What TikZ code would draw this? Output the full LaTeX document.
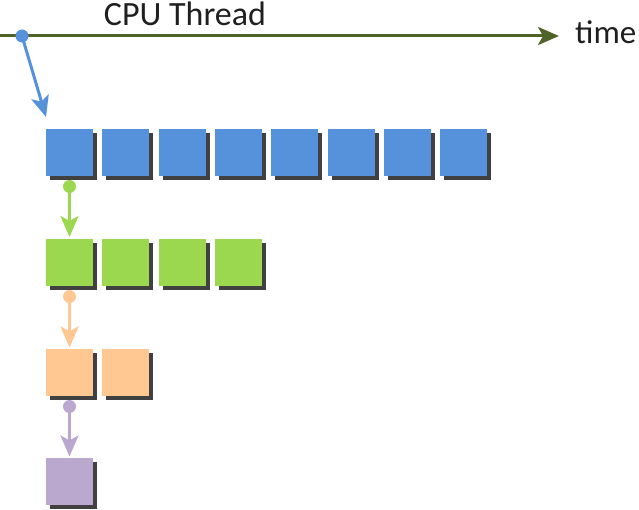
\documentclass[tikz,border=0pt]{standalone}
\usepackage{fontspec}
\setmainfont{Carlito}
\usetikzlibrary{arrows.meta,shadows,calc}
\definecolor{tline}{HTML}{4F6228}
\definecolor{cblue}{HTML}{5592DB}
\definecolor{cgreen}{HTML}{9BD74F}
\definecolor{corange}{HTML}{FFC893}
\definecolor{cpurple}{HTML}{BBA8CE}
\definecolor{shadowc}{HTML}{404040}
\tikzset{
  box/.style={rectangle, minimum size=47pt, inner sep=0pt, outer sep=0pt, anchor=north west,
    drop shadow={shadow xshift=4pt, shadow yshift=-4pt, fill=shadowc, opacity=1}},
  dot/.style={circle, minimum size=13pt, inner sep=0pt},
  link/.style={line width=3pt, -{Stealth[length=21pt,width=18pt,inset=5pt]}},
  lbl/.style={inner sep=0pt, text=black!88}
}
\begin{document}
\begin{tikzpicture}[x=1pt,y=-1pt]
\useasboundingbox (0,0) rectangle (639,510);
% timeline
\coordinate (t0) at (0,36);
\coordinate (t1) at (559,36);
\draw[tline, line width=3pt, -{Stealth[length=21pt,width=18pt,inset=5pt]}] (t0) -- (t1);
\node[lbl, font=\fontsize{34}{36}\selectfont, anchor=base] (cpu) at (185,25.5) {CPU Thread};
\node[lbl, font=\fontsize{33}{35}\selectfont, anchor=base west] (time) at (575,44) {time};
% rows
\foreach \i in {1,...,8} {
  \node[box, fill=cblue] (b\i) at ({46+56.3*(\i-1)},129) {};
}
\foreach \i in {1,...,4} {
  \node[box, fill=cgreen] (g\i) at ({46+56.3*(\i-1)},239) {};
}
\foreach \i in {1,2} {
  \node[box, fill=corange] (o\i) at ({46+56.3*(\i-1)},349) {};
}
\node[box, fill=cpurple] (p1) at (46,458) {};
% dots and arrows
\node[dot, fill=cblue] (d0) at (22,36) {};
\draw[link, cblue] (d0.center) -- ([yshift=12pt]b1.north west);
\node[dot, fill=cgreen] (d1) at ($(b1.south)+(0,10.5)$) {};
\draw[link, cgreen] (d1.center) -- ([yshift=2pt]g1.north);
\node[dot, fill=corange] (d2) at ($(g1.south)+(0,10.5)$) {};
\draw[link, corange] (d2.center) -- ([yshift=1.5pt]o1.north);
\node[dot, fill=cpurple] (d3) at ($(o1.south)+(0,10.5)$) {};
\draw[link, cpurple] (d3.center) -- ([yshift=1.5pt]p1.north);
\end{tikzpicture}
\end{document}
